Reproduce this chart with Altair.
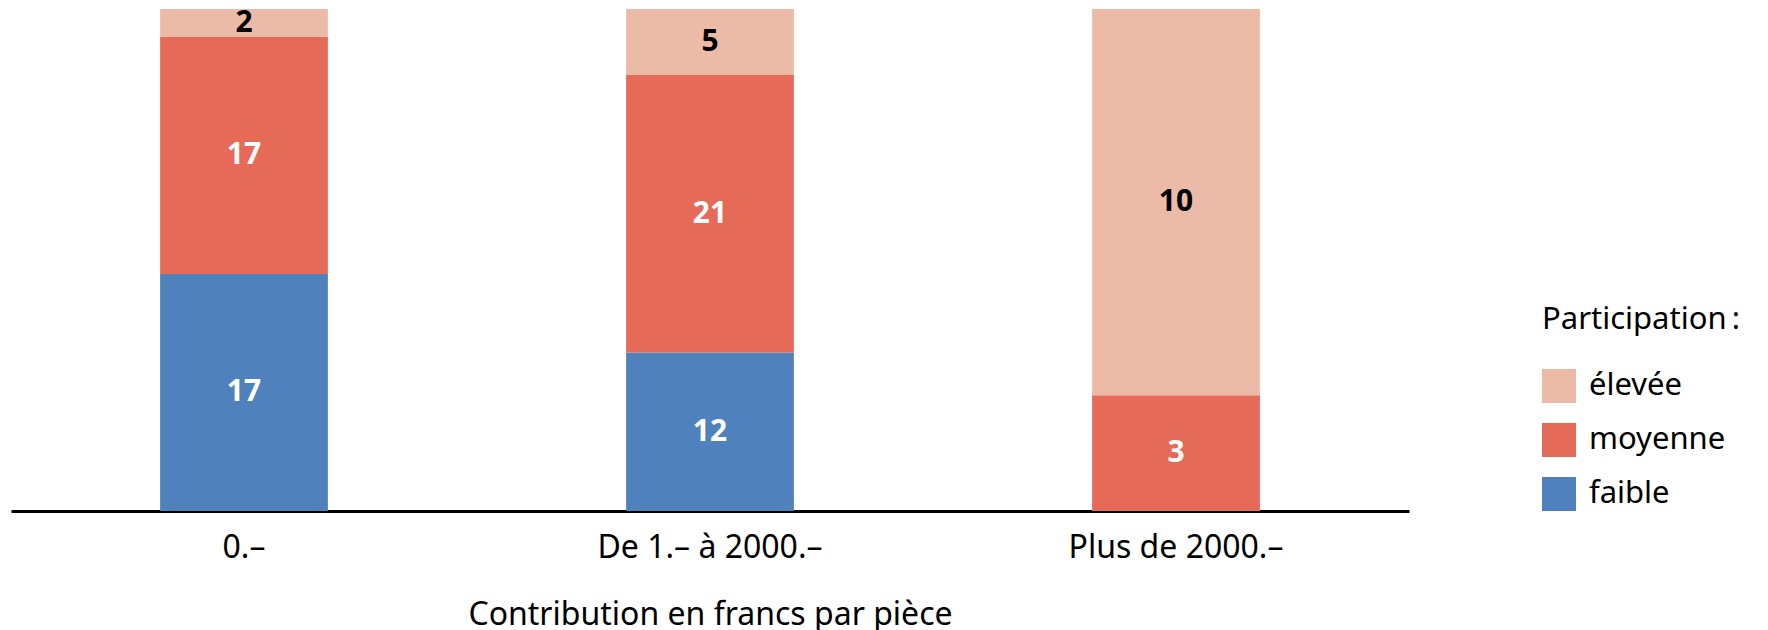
import altair as alt
import pandas as pd

categories = ["0.–", "De 1.– à 2000.–", "Plus de 2000.–"]
levels = ["élevée", "moyenne", "faible"]
faible = [17, 12, 0]
moyenne = [17, 21, 3]
elevee = [2, 5, 10]
colors = ["#ECBBA8", "#E56A58", "#4F81BD"]

rows = []
for i, c in enumerate(categories):
    for lvl, vals, o in (("faible", faible, 0), ("moyenne", moyenne, 1), ("élevée", elevee, 2)):
        if vals[i] > 0:
            rows.append({"cat": c, "part": lvl, "n": vals[i], "ord": o})
df = pd.DataFrame(rows)

FONT = "Noto Sans"
FS = 32
LFS = 31

base = alt.Chart(df).transform_stack(
    stack="n", groupby=["cat"], as_=["y0", "y1"],
    sort=[alt.SortField("ord", order="ascending")], offset="normalize"
).transform_calculate(mid="(datum.y0 + datum.y1) / 2")

x_enc = alt.X("cat:N", sort=categories, title="Contribution en francs par pièce",
              scale=alt.Scale(paddingInner=0.64, paddingOuter=0.32),
              axis=alt.Axis(labelAngle=0, domainColor="black", domainWidth=3, ticks=False,
                            labelFontSize=FS, labelFont=FONT, labelColor="black", labelLimit=0,
                            labelPadding=21, titleFontSize=FS, titleFont=FONT,
                            titleFontWeight="normal", titleColor="black", titlePadding=36))

bars = base.mark_bar().encode(
    x=x_enc,
    y=alt.Y("y0:Q", axis=None, scale=alt.Scale(domain=[0, 1])),
    y2="y1:Q",
    color=alt.Color("part:N", scale=alt.Scale(domain=levels, range=colors),
                    legend=alt.Legend(title="Participation\u202f:", orient="none",
                                      legendX=1531, legendY=296,
                                      symbolType="square", symbolSize=1156,
                                      symbolStrokeWidth=0, symbolOpacity=1,
                                      labelFontSize=LFS, labelFont=FONT, labelColor="black",
                                      labelLimit=0, titleLimit=0,
                                      titleFontSize=LFS, titleFont=FONT, titleFontWeight="normal",
                                      titleColor="black", titlePadding=33, rowPadding=20,
                                      labelOffset=13)),
    order=alt.Order("ord:Q"),
)

labels = base.mark_text(fontSize=30, fontWeight="bold", font=FONT, baseline="middle").encode(
    x=alt.X("cat:N", sort=categories),
    y=alt.Y("mid:Q", scale=alt.Scale(domain=[0, 1])),
    text="n:Q",
    color=alt.condition("datum.part == 'élevée'", alt.value("black"), alt.value("white")),
)

chart = alt.layer(bars, labels).properties(
    width=1398, height=502,
    autosize=alt.AutoSizeParams(type="none"),
    padding={"left": 3, "top": 1, "right": 350, "bottom": 130},
).configure_view(stroke=None)

chart.save("out.html", embed_options={"renderer": "svg", "actions": False})
